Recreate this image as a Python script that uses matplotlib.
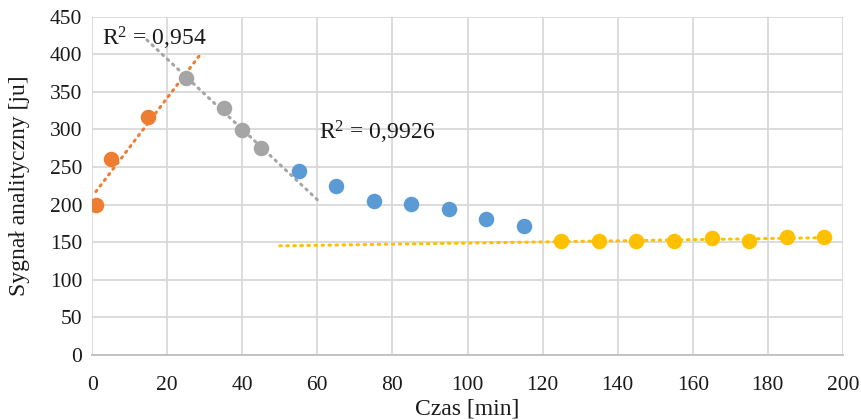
import matplotlib.pyplot as plt
import numpy as np

ORANGE = "#ED7D31"
GRAY = "#A5A5A5"
BLUE = "#5B9BD5"
YELLOW = "#FFC000"
GRID = "#D9D9D9"

# data
orange_x = [1, 5, 15]
orange_y = [200, 261, 316]
gray_x = [25, 35, 40, 45]
gray_y = [368, 329, 299, 275]
blue_x = [55, 65, 75, 85, 95, 105, 115]
blue_y = [245, 225, 205, 201, 194, 181, 172]
yellow_x = [125, 135, 145, 155, 165, 175, 185, 195]
yellow_y = [152, 152, 151, 152, 155, 151, 157, 157]

x_ticks = list(range(0, 201, 20))
y_ticks = list(range(0, 451, 50))

plt.rcParams["font.family"] = ["Liberation Serif", "DejaVu Serif"]
plt.rcParams["mathtext.fontset"] = "custom"
plt.rcParams["mathtext.rm"] = "Liberation Serif"
plt.rcParams["mathtext.it"] = "Liberation Serif"

fig = plt.figure(figsize=(8.61, 4.2), dpi=100)
ax = fig.add_axes([0.107, 0.155, 0.872, 0.805])


def _trend(xs, ys, x0, x1, color):
    k, b = np.polyfit(xs, ys, 1)
    xx = np.array([x0, x1])
    ax.plot(xx, k * xx + b, color=color, linewidth=2.2,
            linestyle=(0, (0.5, 1.8)), dash_capstyle="round", zorder=2)


# linear trendlines (Excel style, with forecast)
_trend(orange_x + gray_x[:1], orange_y + gray_y[:1], 1, 29.3, ORANGE)
_trend(gray_x, gray_y, 14.6, 60, GRAY)
_trend(yellow_x, yellow_y, 50, 197, YELLOW)

ms = 125
ax.scatter(orange_x, orange_y, s=ms, color=ORANGE, zorder=3, linewidths=0)
ax.scatter(gray_x, gray_y, s=ms, color=GRAY, zorder=3, linewidths=0)
ax.scatter(blue_x, blue_y, s=ms, color=BLUE, zorder=3, linewidths=0)
ax.scatter(yellow_x, yellow_y, s=ms, color=YELLOW, zorder=3, linewidths=0)

ax.text(2.5, 421, "R$^{\\mathrm{2}}$ = 0,954", fontsize=17, va="center", ha="left", color="#1a1a1a")
ax.text(60.5, 296, "R$^{\\mathrm{2}}$ = 0,9926", fontsize=17, va="center", ha="left", color="#1a1a1a")

ax.set_xlim(0, 200)
ax.set_ylim(0, 450)
ax.set_xticks(x_ticks)
ax.set_yticks(y_ticks)
ax.grid(True, color=GRID, linewidth=1.3)
ax.set_axisbelow(True)
for side in ["top", "right", "left"]:
    ax.spines[side].set_visible(False)
ax.spines["bottom"].set_color("#BFBFBF")
ax.spines["bottom"].set_linewidth(1.3)
ax.tick_params(length=0, labelsize=15.5, colors="#1a1a1a")
ax.tick_params(axis="x", pad=15)
ax.tick_params(axis="y", pad=7)

ax.set_xlabel("Czas [min]", fontsize=17, color="#1a1a1a", labelpad=3)
ax.set_ylabel("Sygnał analityczny [ju]", fontsize=17, color="#1a1a1a", labelpad=14)

fig.savefig("out.png", dpi=100)
